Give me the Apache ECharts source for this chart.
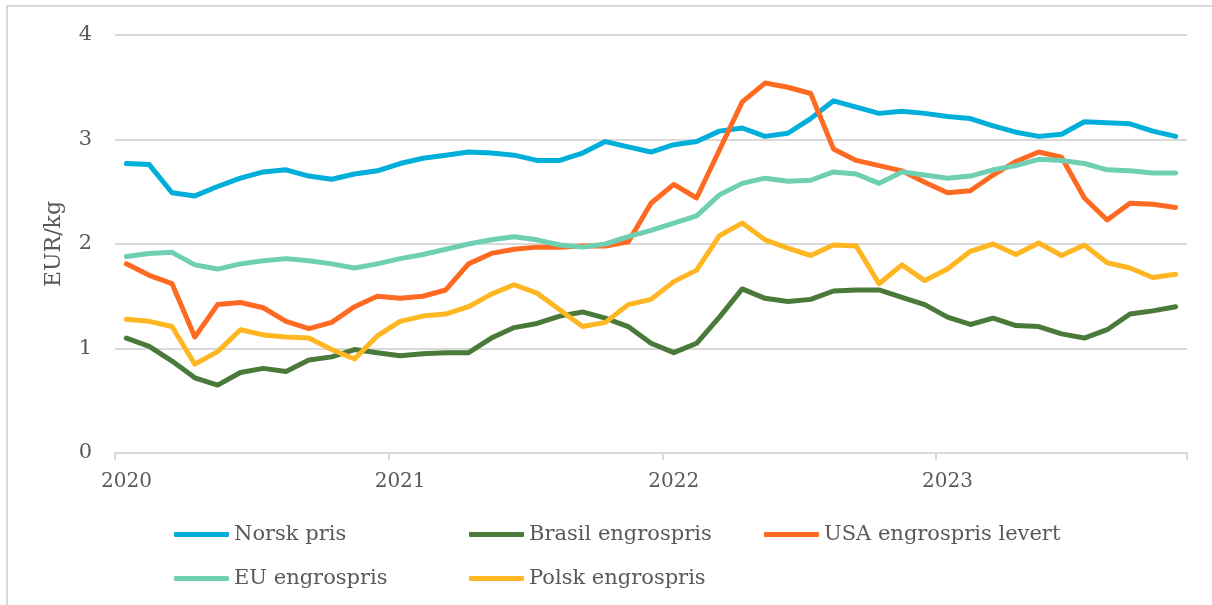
<!DOCTYPE html>
<html>
<head>
<meta charset="utf-8">
<script src="https://cdn.jsdelivr.net/npm/echarts@6/dist/echarts.min.js"></script>
<style>
html,body{margin:0;padding:0;background:#fff;}
#c{width:1212px;height:605px;}
</style>
</head>
<body>
<div id="c"></div>
<script>
// Monthly categories Jan 2020 .. Nov 2023
const months = [
  '2020-01','2020-02','2020-03','2020-04','2020-05','2020-06','2020-07','2020-08','2020-09','2020-10','2020-11','2020-12',
  '2021-01','2021-02','2021-03','2021-04','2021-05','2021-06','2021-07','2021-08','2021-09','2021-10','2021-11','2021-12',
  '2022-01','2022-02','2022-03','2022-04','2022-05','2022-06','2022-07','2022-08','2022-09','2022-10','2022-11','2022-12',
  '2023-01','2023-02','2023-03','2023-04','2023-05','2023-06','2023-07','2023-08','2023-09','2023-10','2023-11'
];
const seriesNames = ['Norsk pris','Brasil engrospris','USA engrospris levert','EU engrospris','Polsk engrospris'];

const norsk = [2.77,2.76,2.49,2.46,2.55,2.63,2.69,2.71,2.65,2.62,2.67,2.70,
  2.77,2.82,2.85,2.88,2.87,2.85,2.80,2.80,2.87,2.98,2.93,2.88,
  2.95,2.98,3.08,3.11,3.03,3.06,3.20,3.37,3.31,3.25,3.27,3.25,
  3.22,3.20,3.13,3.07,3.03,3.05,3.17,3.16,3.15,3.08,3.03];
const brasil = [1.10,1.02,0.88,0.72,0.65,0.77,0.81,0.78,0.89,0.92,0.99,0.96,
  0.93,0.95,0.96,0.96,1.10,1.20,1.24,1.31,1.35,1.29,1.21,1.05,
  0.96,1.05,1.30,1.57,1.48,1.45,1.47,1.55,1.56,1.56,1.49,1.42,
  1.30,1.23,1.29,1.22,1.21,1.14,1.10,1.18,1.33,1.36,1.40];
const usa = [1.81,1.70,1.62,1.11,1.42,1.44,1.39,1.26,1.19,1.25,1.40,1.50,
  1.48,1.50,1.56,1.81,1.91,1.95,1.97,1.97,1.98,1.98,2.02,2.39,
  2.57,2.44,2.90,3.36,3.54,3.50,3.44,2.91,2.80,2.75,2.70,2.59,
  2.49,2.51,2.66,2.79,2.88,2.83,2.44,2.23,2.39,2.38,2.35];
const eu = [1.88,1.91,1.92,1.80,1.76,1.81,1.84,1.86,1.84,1.81,1.77,1.81,
  1.86,1.90,1.95,2.00,2.04,2.07,2.04,1.99,1.97,2.00,2.07,2.13,
  2.20,2.27,2.47,2.58,2.63,2.60,2.61,2.69,2.67,2.58,2.69,2.66,
  2.63,2.65,2.71,2.75,2.81,2.80,2.77,2.71,2.70,2.68,2.68];
const polsk = [1.28,1.26,1.21,0.85,0.97,1.18,1.13,1.11,1.10,0.99,0.90,1.12,
  1.26,1.31,1.33,1.40,1.52,1.61,1.53,1.37,1.21,1.25,1.42,1.47,
  1.64,1.75,2.08,2.20,2.04,1.96,1.89,1.99,1.98,1.62,1.80,1.65,
  1.76,1.93,2.00,1.90,2.01,1.89,1.99,1.82,1.77,1.68,1.71];
const yTicks = [0,1,2,3,4];

const colors = ['#00AEDA','#4A7A3A','#FF6A22','#6FCFB3','#FFB623'];
const values = [norsk, brasil, usa, eu, polsk];
const FONT = 'DejaVu Serif';
const TXT = '#595959';

const chart = echarts.init(document.getElementById('c'), null, {renderer:'canvas'});

const legendPos = [[174,524],[469,524],[764,524],[174,568],[469,568]];
const legends = seriesNames.map((n,i)=>({
  data:[n], left:legendPos[i][0], top:legendPos[i][1], padding:0,
  icon:'roundRect', itemWidth:55, itemHeight:5, selectedMode:false,
  textStyle:{fontFamily:FONT, fontSize:21, color:TXT}
}));

chart.setOption({
  animation:false,
  backgroundColor:'#fff',
  graphic:[{type:'rect', shape:{x:7,y:6,width:1230,height:640},
    style:{fill:'none', stroke:'#d9d9d9', lineWidth:2}, silent:true}],
  grid:{left:115, right:25, top:35, bottom:152, containLabel:false},
  legend:legends,
  xAxis:{
    type:'category', data:months, boundaryGap:true,
    axisLine:{lineStyle:{color:'#d9d9d9', width:2}},
    axisTick:{show:true, length:7, interval:(i)=>i%12===0, lineStyle:{color:'#d9d9d9', width:2}},
    axisLabel:{interval:(i)=>i%12===0, formatter:(v)=>v.slice(0,4), margin:19,
      fontFamily:FONT, fontSize:20, color:TXT},
    splitLine:{show:false}
  },
  yAxis:{
    type:'value', min:yTicks[0], max:yTicks[yTicks.length-1], interval:1,
    name:'EUR/kg', nameLocation:'middle', nameGap:50,
    nameTextStyle:{fontFamily:FONT, fontSize:22, color:TXT},
    axisLine:{show:false}, axisTick:{show:false},
    axisLabel:{margin:23, fontFamily:FONT, fontSize:21, color:TXT},
    splitLine:{lineStyle:{color:'#d9d9d9', width:2}}
  },
  series: seriesNames.map((n,i)=>({
    name:n, type:'line', data:values[i], symbol:'none', smooth:false,
    color:colors[i],
    lineStyle:{width:5, color:colors[i], cap:'round', join:'round'}
  }))
});
</script>
</body>
</html>
